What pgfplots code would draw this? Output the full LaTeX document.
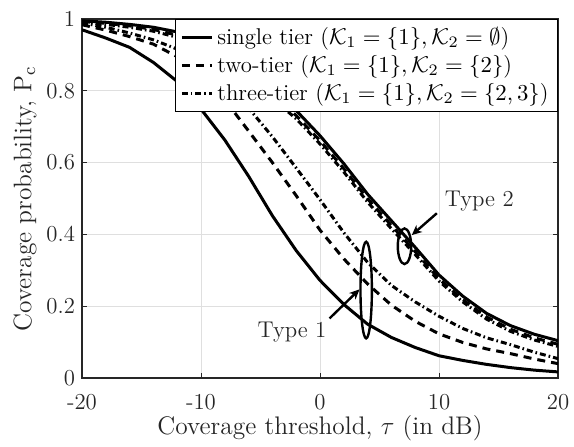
\RequirePackage{fix-cm}
\documentclass[border=0pt]{standalone}
\usepackage{pgfplots}
\pgfplotsset{compat=1.18}
\usetikzlibrary{arrows.meta}
\definecolor{axgray}{RGB}{38,38,38}
\definecolor{gridgray}{RGB}{223,223,223}
\newcommand{\tickfont}{\fontsize{11.4}{13.7}\selectfont}
\newcommand{\labfont}{\fontsize{12.7}{15.2}\selectfont}
\begin{document}
\begin{tikzpicture}
\begin{axis}[
  scale only axis, width=238pt, height=179.5pt,
  xmin=-20, xmax=20, ymin=0, ymax=1,
  xtick={-20,-10,0,10,20}, xticklabels={-20,-10,0,10,20},
  ytick={0,0.2,0.4,0.6,0.8,1}, yticklabels={0,0.2,0.4,0.6,0.8,1},
  tick align=inside, major tick length=2.5pt,
  tick style={axgray, line width=0.5pt},
  axis line style={axgray, line width=0.6pt},
  grid=major, major grid style={gridgray, line width=0.5pt},
  ticklabel style={font=\tickfont, text=axgray},
  xticklabel style={yshift=-4.7pt},
  xlabel={Coverage threshold, $\tau$ (in dB)},
  ylabel={Coverage probability, $\mathrm{P}_\mathrm{c}$},
  label style={font=\labfont, text=axgray},
  xlabel style={at={(axis description cs:0.5,-0.1393)}, anchor=center},
  ylabel style={at={(axis description cs:-0.1197,0.5)}, anchor=center},
  legend style={at={(1,1)}, anchor=north east, font=\tickfont, draw=black,
    line width=0.5pt, fill=white, inner xsep=2.5pt, inner ysep=1.8pt},
  legend cell align=left,
  legend image code/.code={\draw[#1] (0pt,0pt) -- (15pt,0pt);},
]
\addplot[black, line width=1.5pt] coordinates {(-20,0.970)(-18,0.947)(-16,0.921)(-14,0.879)(-12,0.826)(-10,0.749)(-8,0.663)(-6,0.562)(-4,0.452)(-2,0.355)(0,0.272)(2,0.205)(4,0.150)(6,0.113)(8,0.085)(10,0.062)(12,0.049)(14,0.038)(16,0.029)(18,0.022)(20,0.017)};
\addlegendentry{single tier ($\mathcal{K}_1=\{1\},\mathcal{K}_2=\emptyset$)}
\addplot[black, line width=1.5pt, dash pattern=on 4pt off 3pt] coordinates {(-20,0.984)(-18,0.969)(-16,0.951)(-14,0.930)(-12,0.895)(-10,0.845)(-8,0.775)(-6,0.688)(-4,0.600)(-2,0.508)(0,0.412)(2,0.332)(4,0.262)(6,0.203)(8,0.158)(10,0.123)(12,0.099)(14,0.081)(16,0.068)(18,0.053)(20,0.040)};
\addlegendentry{two-tier ($\mathcal{K}_1=\{1\},\mathcal{K}_2=\{2\}$)}
\addplot[black, line width=1.5pt, dash pattern=on 3pt off 1.5pt on 0.8pt off 1.5pt] coordinates {(-20,0.989)(-18,0.977)(-16,0.961)(-14,0.942)(-12,0.916)(-10,0.876)(-8,0.821)(-6,0.752)(-4,0.672)(-2,0.585)(0,0.497)(2,0.405)(4,0.322)(6,0.258)(8,0.212)(10,0.172)(12,0.138)(14,0.112)(16,0.093)(18,0.072)(20,0.054)};
\addlegendentry{three-tier ($\mathcal{K}_1=\{1\},\mathcal{K}_2=\{2,3\}$)}
\addplot[black, line width=1.5pt, forget plot] coordinates {(-20,0.995)(-18,0.991)(-16,0.985)(-14,0.977)(-12,0.964)(-10,0.942)(-8,0.906)(-6,0.858)(-4,0.803)(-2,0.745)(0,0.675)(2,0.597)(4,0.512)(6,0.438)(8,0.364)(10,0.287)(12,0.228)(14,0.180)(16,0.146)(18,0.122)(20,0.104)};
\addplot[black, line width=1.5pt, dash pattern=on 4pt off 3pt, forget plot] coordinates {(-20,0.993)(-18,0.988)(-16,0.981)(-14,0.971)(-12,0.955)(-10,0.930)(-8,0.892)(-6,0.843)(-4,0.788)(-2,0.731)(0,0.661)(2,0.583)(4,0.499)(6,0.425)(8,0.352)(10,0.276)(12,0.218)(14,0.170)(16,0.136)(18,0.112)(20,0.094)};
\addplot[black, line width=1.5pt, dash pattern=on 3pt off 1.5pt on 0.8pt off 1.5pt, forget plot] coordinates {(-20,0.991)(-18,0.985)(-16,0.977)(-14,0.966)(-12,0.949)(-10,0.922)(-8,0.884)(-6,0.834)(-4,0.779)(-2,0.722)(0,0.652)(2,0.574)(4,0.490)(6,0.416)(8,0.344)(10,0.270)(12,0.212)(14,0.164)(16,0.130)(18,0.106)(20,0.088)};
\draw[black, line width=1.2pt] (axis cs:3.88,0.245) ellipse [x radius=2.85pt, y radius=24.15pt];
\draw[black, line width=1.2pt] (axis cs:7.10,0.367) ellipse [x radius=3.35pt, y radius=8.9pt];
\draw[black, line width=1.2pt, -{Stealth[length=5pt, width=4.5pt, inset=1.5pt]}] (axis cs:0.80,0.166) -- (axis cs:3.32,0.247);
\draw[black, line width=1.2pt, -{Stealth[length=5pt, width=4.5pt, inset=1.5pt]}] (axis cs:9.82,0.459) -- (axis cs:7.71,0.398);
\node[anchor=base west, font=\tickfont, inner sep=0pt, text=axgray] at (axis cs:-5.28,0.114) {Type 1};
\node[anchor=base west, font=\tickfont, inner sep=0pt, text=axgray] at (axis cs:10.46,0.477) {Type 2};
\end{axis}
\pgfresetboundingbox
\path ([xshift=-41pt,yshift=-34pt]current axis.south west) rectangle ([xshift=8pt,yshift=9.5pt]current axis.north east);
\end{tikzpicture}
\end{document}
